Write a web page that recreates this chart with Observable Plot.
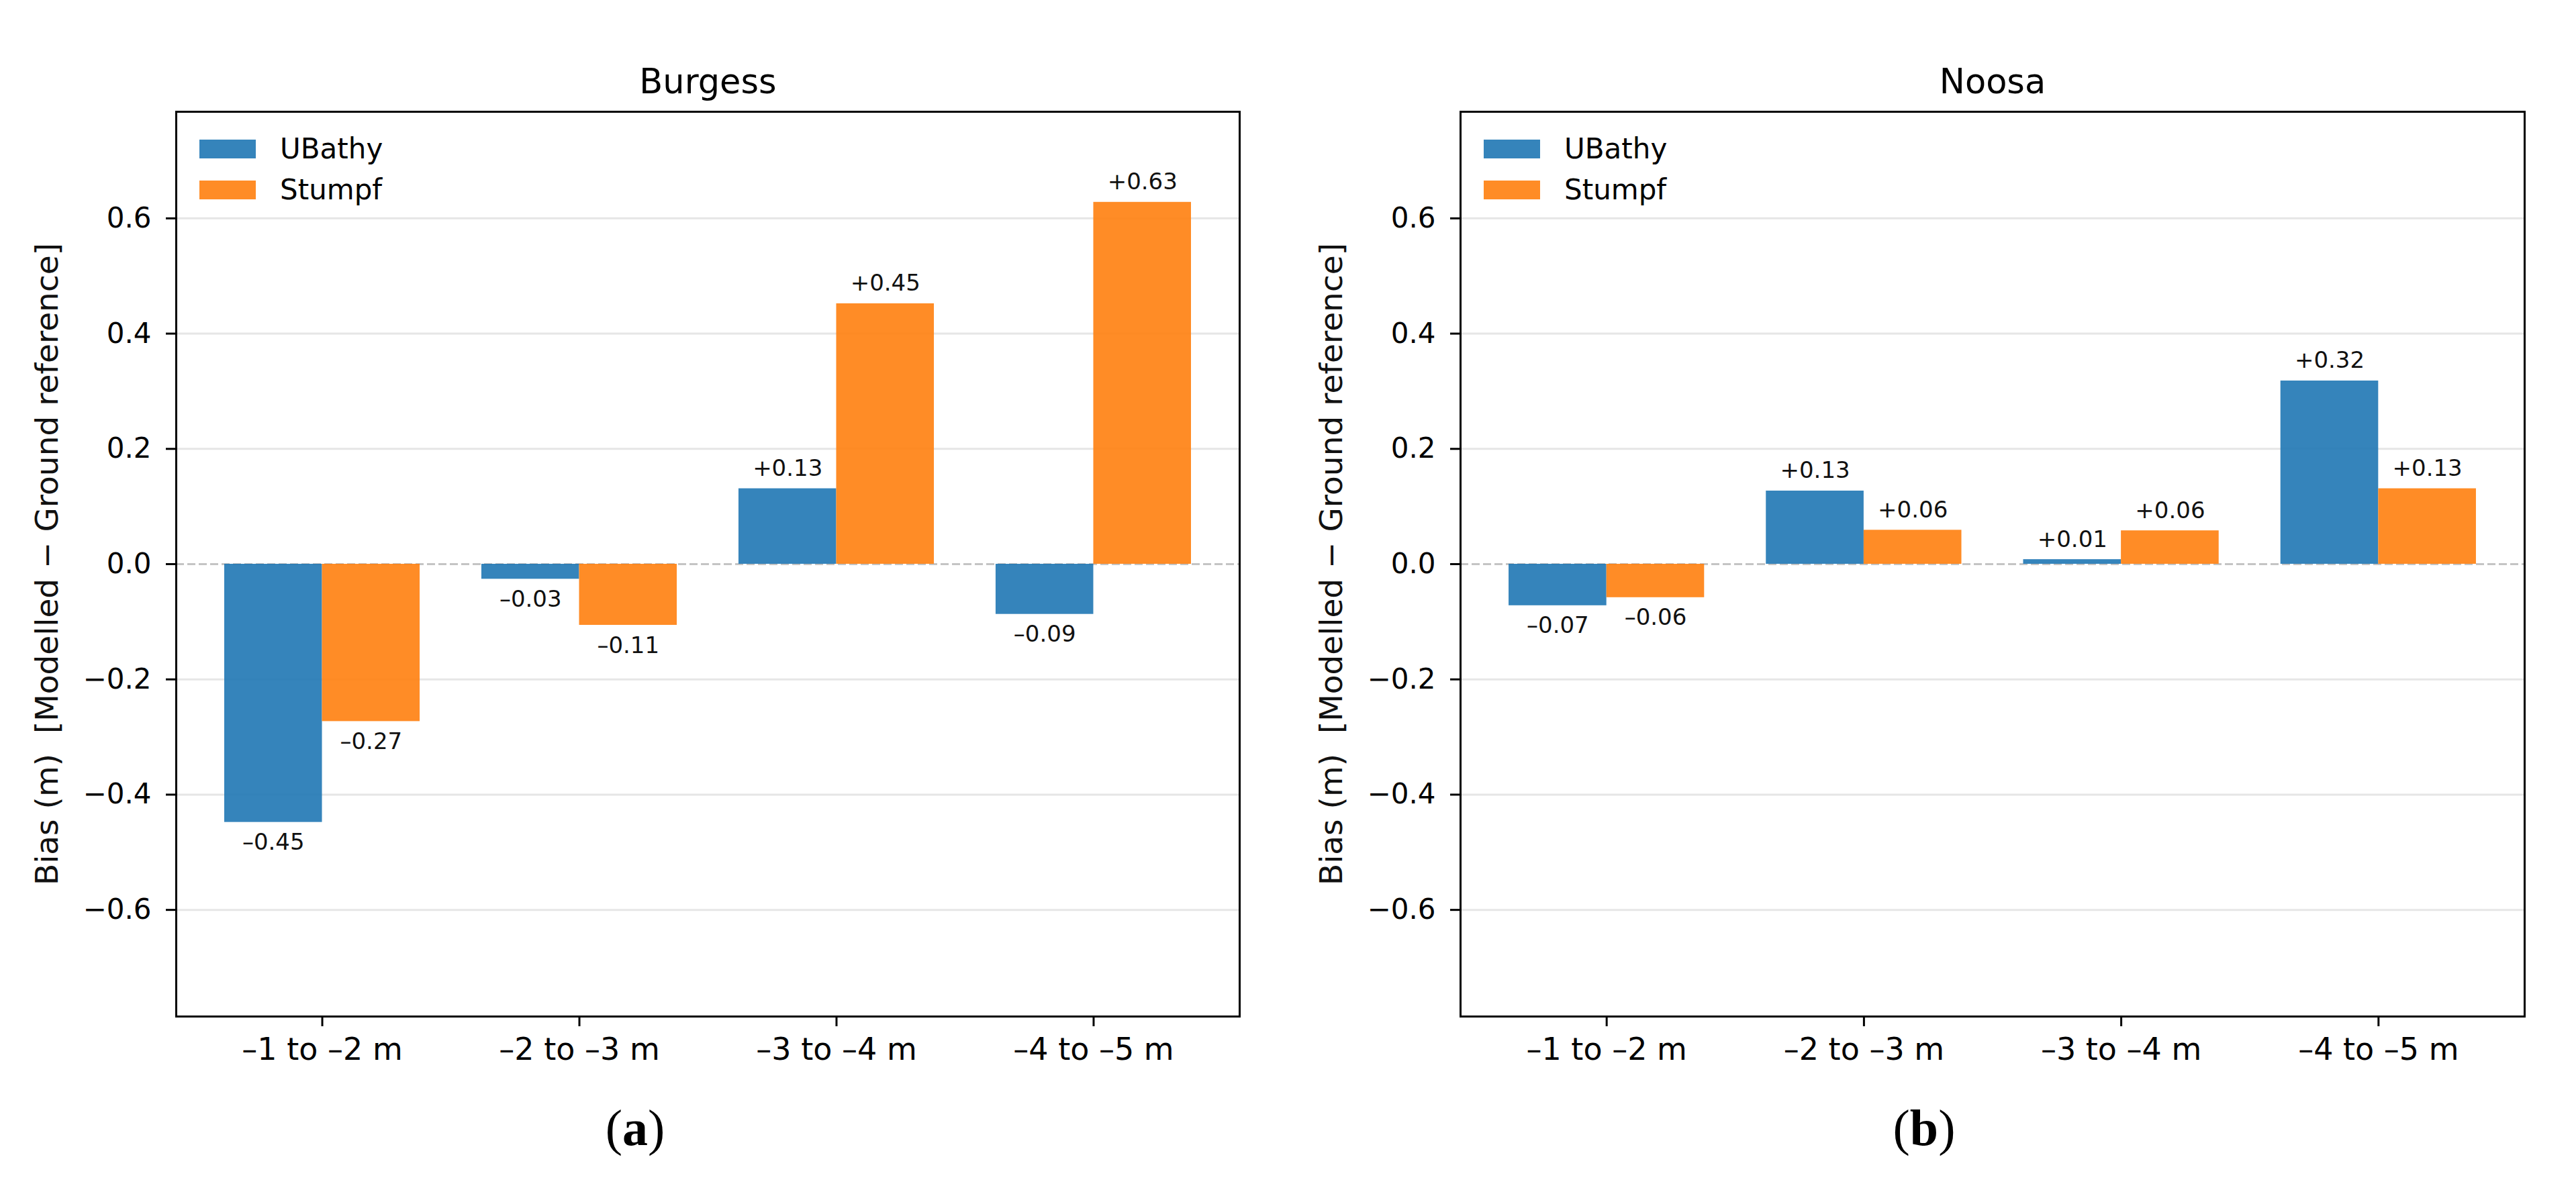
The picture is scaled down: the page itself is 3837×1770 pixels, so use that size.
<!DOCTYPE html>
<html>
<head>
<meta charset="utf-8">
<script src="https://cdn.jsdelivr.net/npm/d3@7"></script>
<script src="https://cdn.jsdelivr.net/npm/@observablehq/plot@0.6"></script>
<style>
  html, body { margin: 0; padding: 0; background: #ffffff; }
  #wrap { position: relative; width: 3837px; height: 1770px; overflow: hidden; background: #fff; font-family: "DejaVu Sans", sans-serif; }
  .panel { position: absolute; top: 0; }
  .patch { position: absolute; width: 84px; height: 28px; }
  .leglab { position: absolute; font-family: "DejaVu Sans", sans-serif; font-size: 42px; line-height: 42px; height: 42px; color: #000; white-space: nowrap; }
  .cap { position: absolute; font-family: "Liberation Serif", serif; font-size: 76px; line-height: 76px; color: #000; transform: translateX(-50%); white-space: nowrap; }
</style>
</head>
<body>
<div id="wrap"></div>
<script>
// ---------- data ----------
const categories = ["–1 to –2 m", "–2 to –3 m", "–3 to –4 m", "–4 to –5 m"];
const seriesNames = ["UBathy", "Stumpf"];
const seriesColors = ["#1f77b4", "#ff7f0e"];
const panelTitles = ["Burgess", "Noosa"];
const captionLetters = ["a", "b"];
const burgessUBathy = [-0.448, -0.026, 0.131, -0.087];
const burgessStumpf = [-0.273, -0.106, 0.452, 0.628];
const noosaUBathy = [-0.072, 0.127, 0.008, 0.318];
const noosaStumpf = [-0.058, 0.059, 0.058, 0.131];
const yTicks = [-0.6, -0.4, -0.2, 0, 0.2, 0.4, 0.6];
const gridTicks = [-0.6, -0.4, -0.2, 0.2, 0.4, 0.6];
const yLabel = "Bias (m)\u00a0\u00a0[Modelled − Ground reference]";

// ---------- helpers ----------
const barW = 0.38;
const fmtVal = v => (v >= 0 ? "+" : "–") + Math.abs(v).toFixed(2);
const fmtTick = v => (v < 0 ? "−" : "") + Math.abs(v).toFixed(1);

function buildRows(uVals, sVals) {
  const rows = [];
  categories.forEach((c, i) => {
    [uVals[i], sVals[i]].forEach((v, s) => {
      const x1 = i + (s === 0 ? -barW : 0);
      rows.push({ i, category: c, series: seriesNames[s], value: v, x1, x2: x1 + barW, xc: x1 + barW / 2 });
    });
  });
  return rows;
}

function makePanel(title, uVals, sVals, offsetX, width, mLeft, mRight, letter, capX) {
  const rows = buildRows(uVals, sVals);
  const H = 1640, mTop = 166, mBottom = H - 1514;
  const plot = Plot.plot({
    width, height: H,
    marginLeft: mLeft, marginRight: mRight, marginTop: mTop, marginBottom: mBottom,
    style: { fontFamily: "DejaVu Sans", fontSize: "42px", background: "white", overflow: "visible", color: "#000" },
    x: { type: "linear", domain: [-0.568, 3.568] },
    y: { domain: [-0.785, 0.785] },
    color: { domain: seriesNames, range: seriesColors },
    marks: [
      Plot.ruleY(gridTicks, { stroke: "#e6e6e6", strokeWidth: 3 }),
      Plot.ruleY([0], { stroke: "#c4c4c4", strokeWidth: 3, strokeDasharray: "12,5" }),
      Plot.rectY(rows, { x1: "x1", x2: "x2", y1: 0, y2: "value", fill: "series", fillOpacity: 0.9 }),
      Plot.text(rows.filter(d => d.value >= 0), { x: "xc", y: "value", text: d => fmtVal(d.value), lineAnchor: "bottom", dy: -19, fontSize: 34, fill: "#111" }),
      Plot.text(rows.filter(d => d.value < 0), { x: "xc", y: "value", text: d => fmtVal(d.value), lineAnchor: "top", dy: 17, fontSize: 34, fill: "#111" }),
      Plot.axisY(yTicks, { tickSize: 15, tickPadding: 22, fontSize: 42, strokeWidth: 3, tickFormat: fmtTick, label: null }),
      Plot.axisX([0, 1, 2, 3], { tickSize: 15, tickPadding: 17, fontSize: 46, strokeWidth: 3, tickFormat: i => categories[i], label: null }),
      Plot.frame({ stroke: "#000", strokeWidth: 3 }),
      Plot.text([title], { frameAnchor: "top", textAnchor: "middle", lineAnchor: "bottom", dy: -28, fontSize: 51, text: d => d, fill: "#000" }),
      Plot.text([yLabel], { frameAnchor: "left", textAnchor: "middle", rotate: -90, lineAnchor: "top", dx: -210, fontSize: 47, text: d => d, fill: "#111" })
    ]
  });
  const div = document.createElement("div");
  div.className = "panel";
  div.style.left = offsetX + "px";
  div.style.width = width + "px";
  div.appendChild(plot);
  // legend inside the axes (upper left)
  seriesNames.forEach((name, k) => {
    const top = 208 + k * 61;
    const p = document.createElement("div");
    p.className = "patch";
    p.style.left = (mLeft + 35) + "px";
    p.style.top = top + "px";
    p.style.background = seriesColors[k];
    p.style.opacity = 0.9;
    div.appendChild(p);
    const l = document.createElement("div");
    l.className = "leglab";
    l.style.left = (mLeft + 155) + "px";
    l.style.top = (top + 14 - 21) + "px";
    l.textContent = name;
    div.appendChild(l);
  });
  document.getElementById("wrap").appendChild(div);
  const cap = document.createElement("div");
  cap.className = "cap";
  cap.style.left = capX + "px";
  cap.style.top = "1642px";
  cap.innerHTML = "(<b>" + letter + "</b>)";
  document.getElementById("wrap").appendChild(cap);
}

makePanel(panelTitles[0], burgessUBathy, burgessStumpf, 0, 1918, 262, 72, captionLetters[0], 946);
makePanel(panelTitles[1], noosaUBathy, noosaStumpf, 1918, 1919, 257, 77, captionLetters[1], 2866);
</script>
</body>
</html>
